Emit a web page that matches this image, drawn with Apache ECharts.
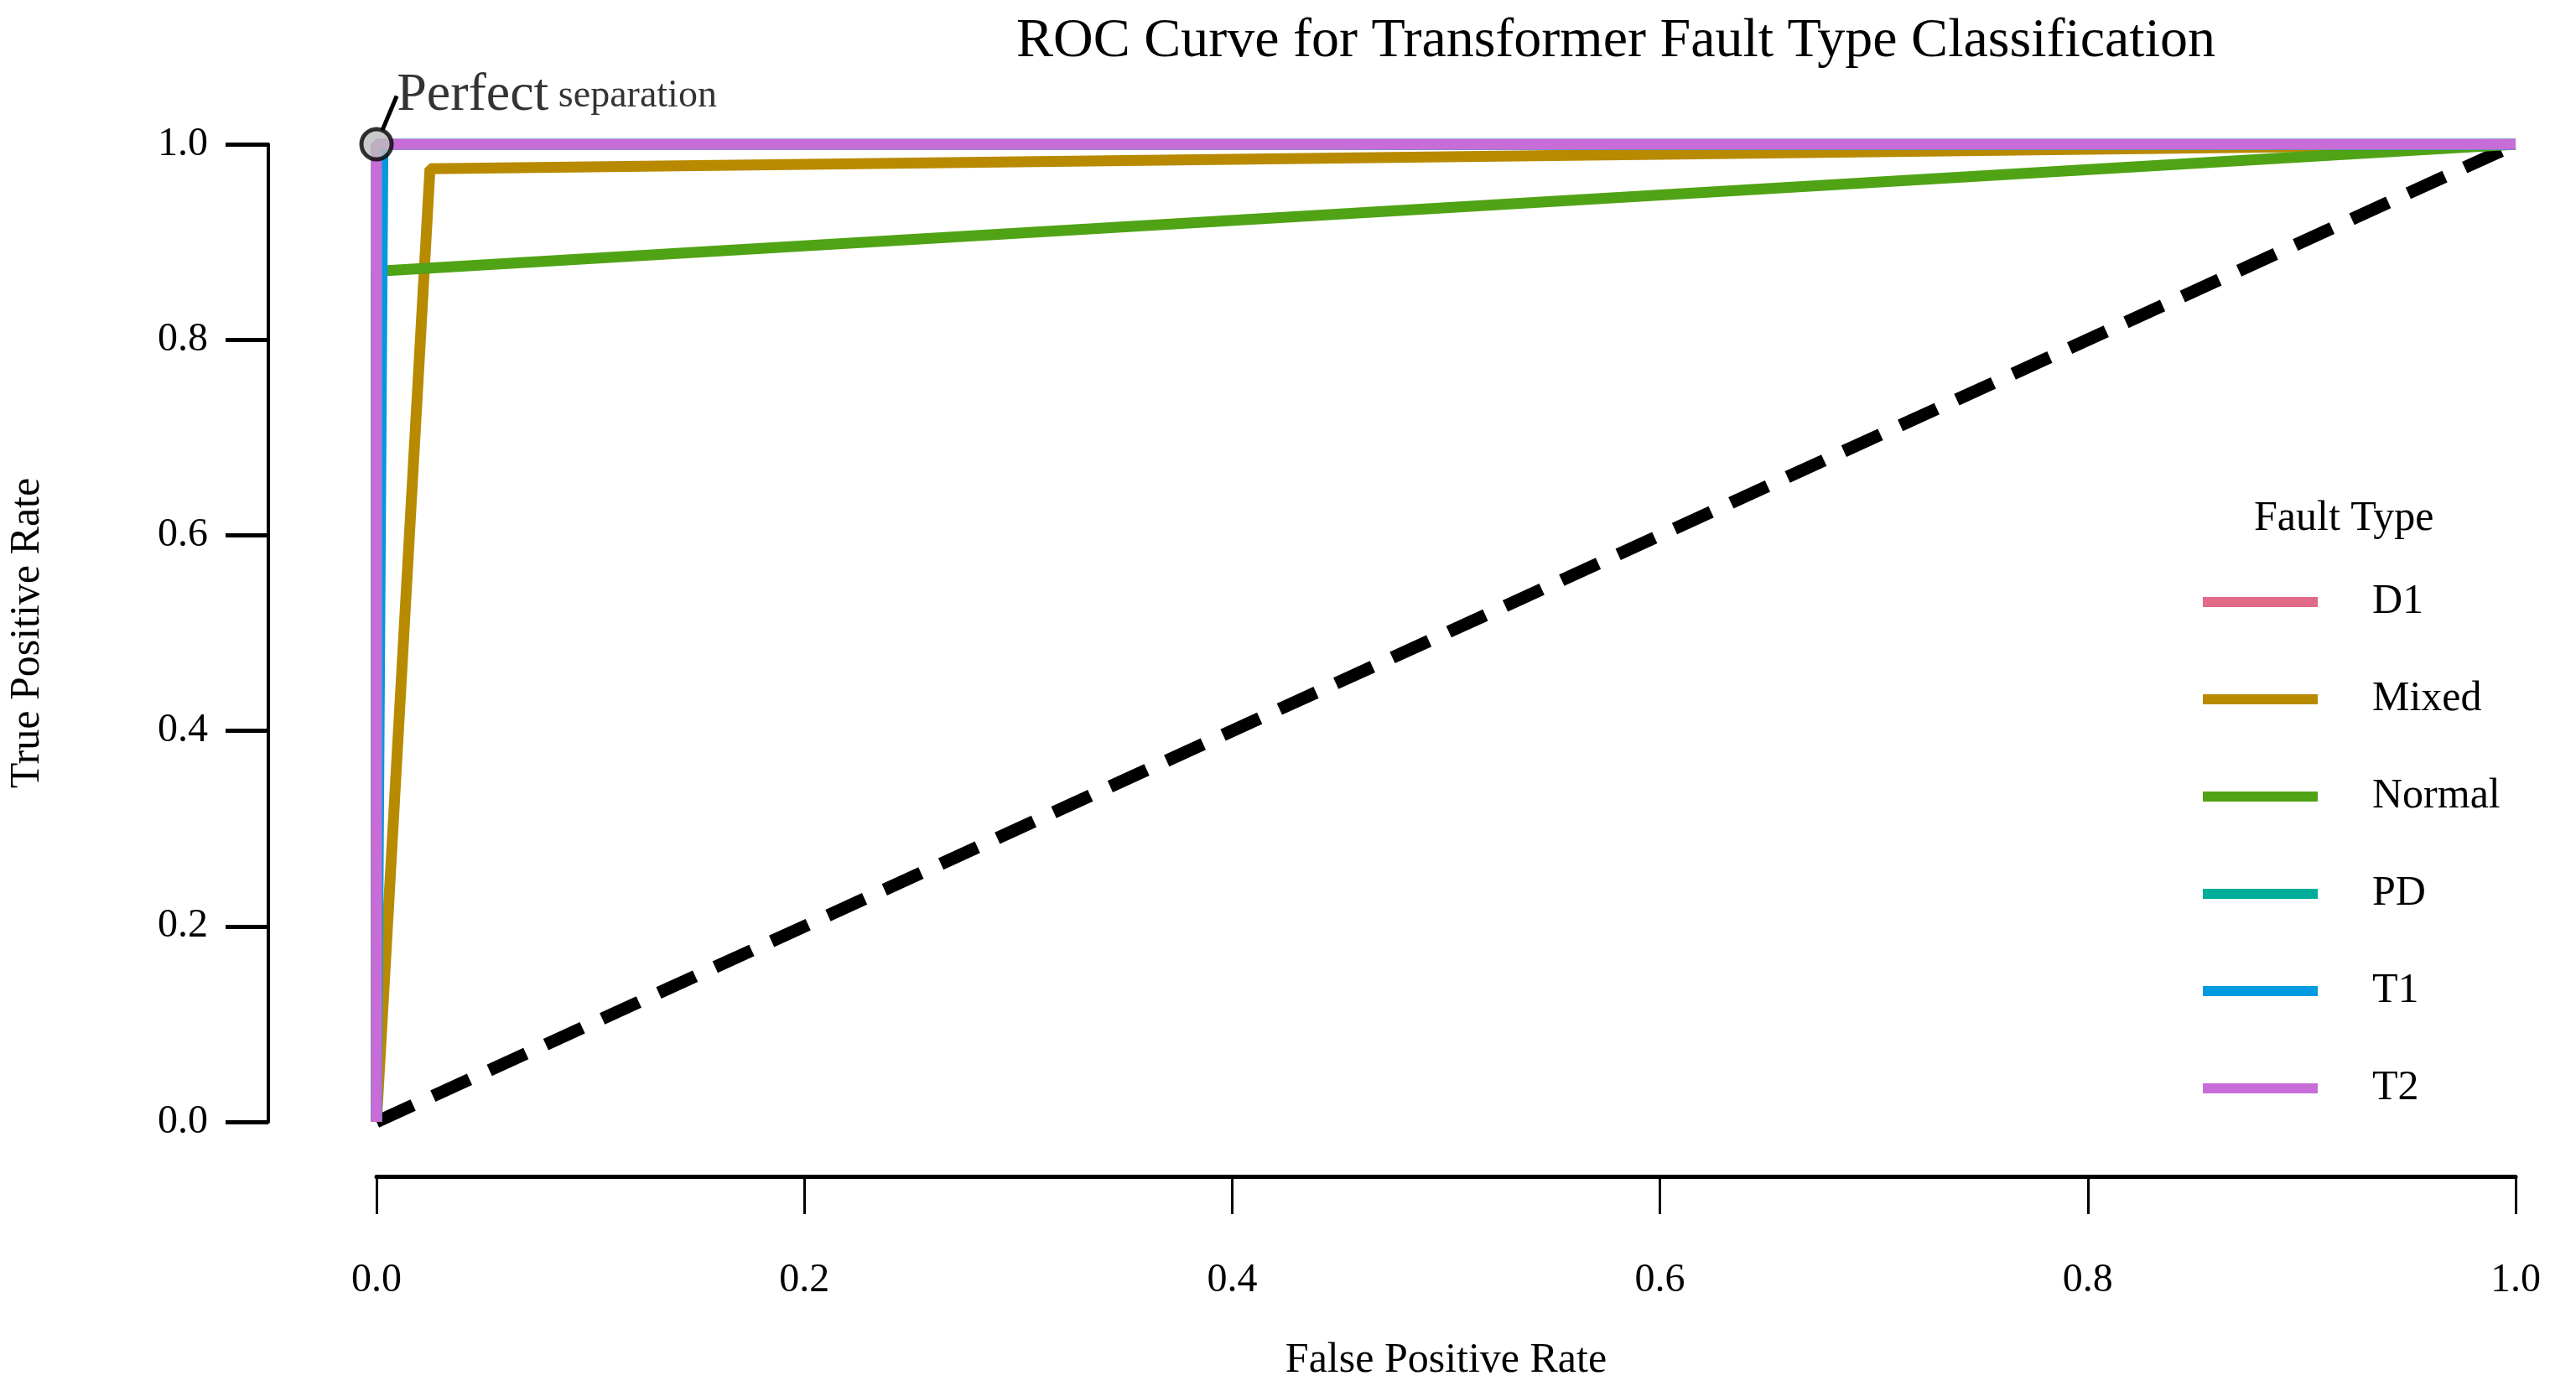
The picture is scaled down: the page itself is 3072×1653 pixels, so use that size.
<!DOCTYPE html>
<html lang="en">
<head>
<meta charset="UTF-8">
<title>ROC Curve</title>
<script src="https://cdn.jsdelivr.net/npm/echarts@6/dist/echarts.min.js"></script>
<style>
    html, body { margin: 0; padding: 0; background: #fff; }
    #main { width: 3072px; height: 1653px; }
</style>
</head>
<body>
<div id="main"></div>
<script>
    // ROC points per fault type, [fpr, tpr]
    var faultTypes = ['D1', 'Mixed', 'Normal', 'PD', 'T1', 'T2'];
    var colors = ['#E16A86', '#B88A00', '#50A315', '#00AD9A', '#009ADE', '#C86DD7'];
    var rocD1 = [[0, 0], [0, 1], [1, 1]];
    var rocMixed = [[0, 0], [0.025, 0.975], [1, 1]];
    var rocNormal = [[0, 0], [0, 0.87], [1, 1]];
    var rocPD = [[0, 0], [0, 1], [1, 1]];
    var rocT1 = [[0, 0], [0.003, 1], [1, 1]];
    var rocT2 = [[0, 0], [0, 1], [1, 1]];
    var diagonal = [[0, 0], [1, 1]];
    var perfectPoint = [[0, 1]];

    var rocData = [rocD1, rocMixed, rocNormal, rocPD, rocT1, rocT2];
    var font = '"Liberation Serif", "DejaVu Serif", serif';

    var series = [{
        type: 'line',
        data: diagonal,
        symbol: 'none',
        silent: true,
        lineStyle: {color: '#000', width: 15, type: [48, 26]},
        z: 1
    }];
    for (var i = 0; i < faultTypes.length; i++) {
        series.push({
            name: faultTypes[i],
            type: 'line',
            data: rocData[i],
            symbol: 'none',
            lineStyle: {color: colors[i], width: 13},
            itemStyle: {color: colors[i]},
            z: 2 + i
        });
    }
    series.push({
        type: 'scatter',
        data: perfectPoint,
        symbol: 'circle',
        symbolSize: [36, 36],
        itemStyle: {color: '#bdbdbd', borderColor: '#000', borderWidth: 5},
        z: 20,
        label: {
            show: true,
            position: 'top',
            fontFamily: font,
            color: '#000',
            formatter: '{a|Perfect}{b| separation}',
            rich: {
                a: {fontFamily: font, fontSize: 64, color: '#000'},
                b: {fontFamily: font, fontSize: 46, color: '#000'}
            }
        },
        labelLayout: {dx: 215, dy: 0},
        labelLine: {show: true, lineStyle: {color: '#000', width: 5}}
    });

    var chart = echarts.init(document.getElementById('main'));
    chart.setOption({
        backgroundColor: '#fff',
        animation: false,
        title: {
            text: 'ROC Curve for Transformer Fault Type Classification',
            left: 1922, top: 12, textAlign: 'center',
            textStyle: {fontFamily: font, fontSize: 66, fontWeight: 'normal', color: '#000'}
        },
        legend: {
            data: faultTypes,
            orient: 'vertical',
            left: 2622, top: 688,
            itemWidth: 137, itemHeight: 12,
            itemGap: 66,
            textStyle: {fontFamily: font, fontSize: 50, color: '#000', padding: [0, 0, 0, 60]},
            icon: 'rect'
        },
        graphic: [{
            type: 'text', left: 2688, top: 594,
            style: {text: 'Fault Type', font: '50px ' + font, fill: '#000'}
        }],
        grid: {left: 439, right: 72, top: 172, bottom: 303},
        xAxis: {
            type: 'value', min: 0, max: 1, interval: 0.2,
            offset: 65,
            name: 'False Positive Rate', nameLocation: 'middle', nameGap: 195,
            nameTextStyle: {fontFamily: font, fontSize: 50, color: '#000'},
            axisLine: {show: true, onZero: false, lineStyle: {color: '#000', width: 5}},
            axisTick: {show: true, length: 45, lineStyle: {color: '#000', width: 3}},
            axisLabel: {fontFamily: font, fontSize: 48, color: '#000', margin: 100,
                formatter: function (v) { return v.toFixed(1); }},
            splitLine: {show: false}
        },
        yAxis: {
            type: 'value', min: 0, max: 1, interval: 0.2,
            offset: 129,
            name: 'True Positive Rate', nameLocation: 'middle', nameGap: 262,
            nameTextStyle: {fontFamily: font, fontSize: 50, color: '#000'},
            axisLine: {show: true, onZero: false, lineStyle: {color: '#000', width: 4}},
            axisTick: {show: true, length: 51, lineStyle: {color: '#000', width: 5}},
            axisLabel: {fontFamily: font, fontSize: 48, color: '#000', margin: 72,
                formatter: function (v) { return v.toFixed(1); }},
            splitLine: {show: false}
        },
        series: series
    });
</script>
</body>
</html>
